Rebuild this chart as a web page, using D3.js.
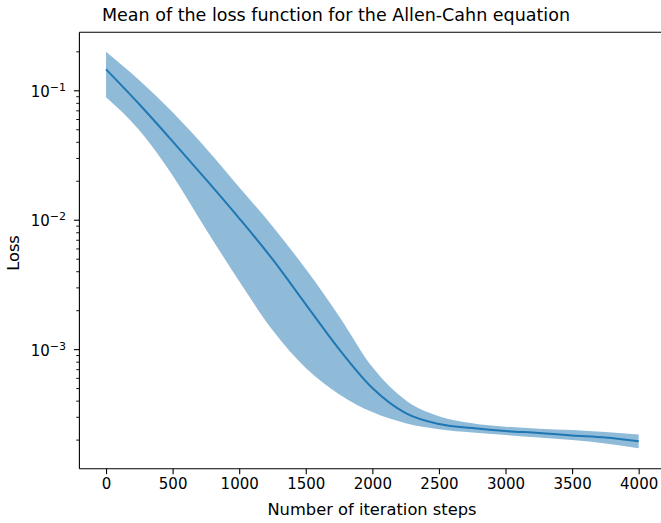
<!DOCTYPE html>
<html>
<head>
<meta charset="utf-8">
<script src="https://cdn.jsdelivr.net/npm/d3@7"></script>
<style>
  body { margin: 0; background: #fff; }
  text { font-family: "DejaVu Sans", sans-serif; fill: #000; }
</style>
</head>
<body>
<div id="chart"></div>
<script>
// iteration steps where the curves were read
var steps = [0, 250, 500, 750, 1000, 1250, 1500, 1750, 2000, 2250, 2500, 2750, 3000, 3250, 3500, 3750, 4000];
// mean loss
var meanLoss = [0.1466, 0.0787, 0.0407, 0.0207, 0.01035, 0.00500, 0.00224, 0.001009, 0.000505, 0.000323,
  0.000266, 0.000248, 0.000235, 0.000227, 0.000217, 0.000209, 0.000196];
// upper and lower edge of the band
var upperLoss = [0.200, 0.1205, 0.0682, 0.0360, 0.01799, 0.00899, 0.00419, 0.001815, 0.000733, 0.000407,
  0.000306, 0.000270, 0.000254, 0.000245, 0.000239, 0.000231, 0.000221];
var lowerLoss = [0.0891, 0.0496, 0.0222, 0.00853, 0.00338, 0.001416, 0.000720, 0.000453, 0.000329, 0.000270,
  0.000243, 0.000229, 0.000219, 0.000209, 0.000200, 0.000188, 0.000173];
var xTicks = [0, 500, 1000, 1500, 2000, 2500, 3000, 3500, 4000];
var yTicks = [1e-1, 1e-2, 1e-3];
var yTickExp = ["\u22121", "\u22122", "\u22123"];

var width = 661, height = 523;
var margin = { left: 79.4, top: 32.3, bottom: 468.7, right: 665.3 };
var blue = "#1f77b4";

var data = steps.map(function(s, i) {
  return { step: s, mean: meanLoss[i], up: upperLoss[i], lo: lowerLoss[i] };
});

var svg = d3.select("#chart").append("svg")
  .attr("width", width)
  .attr("height", height);

var x = d3.scaleLinear().domain([-200, 4200]).range([margin.left, margin.right]);
var y = d3.scaleLog().domain([Math.pow(10, -3.92), Math.pow(10, -0.548)]).range([margin.bottom, margin.top]);

// band
svg.append("path")
  .datum(data)
  .attr("fill", blue)
  .attr("fill-opacity", 0.5)
  .attr("d", d3.area()
    .x(function(d) { return x(d.step); })
    .y0(function(d) { return y(d.lo); })
    .y1(function(d) { return y(d.up); })
    .curve(d3.curveMonotoneX));

// mean line
svg.append("path")
  .datum(data)
  .attr("fill", "none")
  .attr("stroke", blue)
  .attr("stroke-width", 2)
  .attr("d", d3.line()
    .x(function(d) { return x(d.step); })
    .y(function(d) { return y(d.mean); })
    .curve(d3.curveMonotoneX));

// x axis
var xAxis = d3.axisBottom(x).tickValues(xTicks).tickSize(5.5).tickPadding(4).tickFormat(d3.format("d"));
var xg = svg.append("g").attr("transform", "translate(0," + margin.bottom + ")").call(xAxis);
xg.select(".domain").remove();
xg.selectAll("line").attr("stroke", "#000").attr("stroke-width", 1.1);
xg.selectAll("text").style("font-size", "15px").style("font-family", "DejaVu Sans");

// y axis minor ticks
var minor = [];
[-4, -3, -2, -1].forEach(function(e) {
  for (var k = 2; k <= 9; k++) {
    var v = k * Math.pow(10, e);
    if (v > y.domain()[0] && v < y.domain()[1]) minor.push(v);
  }
});
svg.selectAll(".minor").data(minor).enter().append("line")
  .attr("class", "minor")
  .attr("x1", margin.left).attr("x2", margin.left - 3.2)
  .attr("y1", function(d) { return y(d); }).attr("y2", function(d) { return y(d); })
  .attr("stroke", "#000").attr("stroke-width", 0.9);

svg.selectAll(".major").data(yTicks).enter().append("line")
  .attr("class", "major")
  .attr("x1", margin.left).attr("x2", margin.left - 5.5)
  .attr("y1", function(d) { return y(d); }).attr("y2", function(d) { return y(d); })
  .attr("stroke", "#000").attr("stroke-width", 1.1);

var yl = svg.selectAll(".ylab").data(yTicks).enter().append("text")
  .attr("class", "ylab")
  .attr("x", 66)
  .attr("y", function(d) { return y(d) + 6; })
  .attr("text-anchor", "end")
  .style("font-size", "15px");
yl.append("tspan").text("10");
yl.append("tspan")
  .attr("dy", -6)
  .style("font-size", "11px")
  .text(function(d, i) { return yTickExp[i]; });

// spines
svg.append("line")
  .attr("x1", margin.left).attr("x2", margin.left)
  .attr("y1", margin.top).attr("y2", margin.bottom)
  .attr("stroke", "#000").attr("stroke-width", 1.1);
svg.append("line")
  .attr("x1", margin.left).attr("x2", margin.right)
  .attr("y1", margin.top).attr("y2", margin.top)
  .attr("stroke", "#000").attr("stroke-width", 1.1);
svg.append("line")
  .attr("x1", margin.left).attr("x2", margin.right)
  .attr("y1", margin.bottom).attr("y2", margin.bottom)
  .attr("stroke", "#000").attr("stroke-width", 1.1);

// labels
svg.append("text")
  .attr("x", 336).attr("y", 21)
  .attr("text-anchor", "middle")
  .style("font-size", "17.5px")
  .text("Mean of the loss function for the Allen-Cahn equation");

svg.append("text")
  .attr("x", 372).attr("y", 515)
  .attr("text-anchor", "middle")
  .style("font-size", "16.3px")
  .text("Number of iteration steps");

svg.append("text")
  .attr("transform", "translate(19,253) rotate(-90)")
  .attr("text-anchor", "middle")
  .style("font-size", "16.3px")
  .text("Loss");
</script>
</body>
</html>
